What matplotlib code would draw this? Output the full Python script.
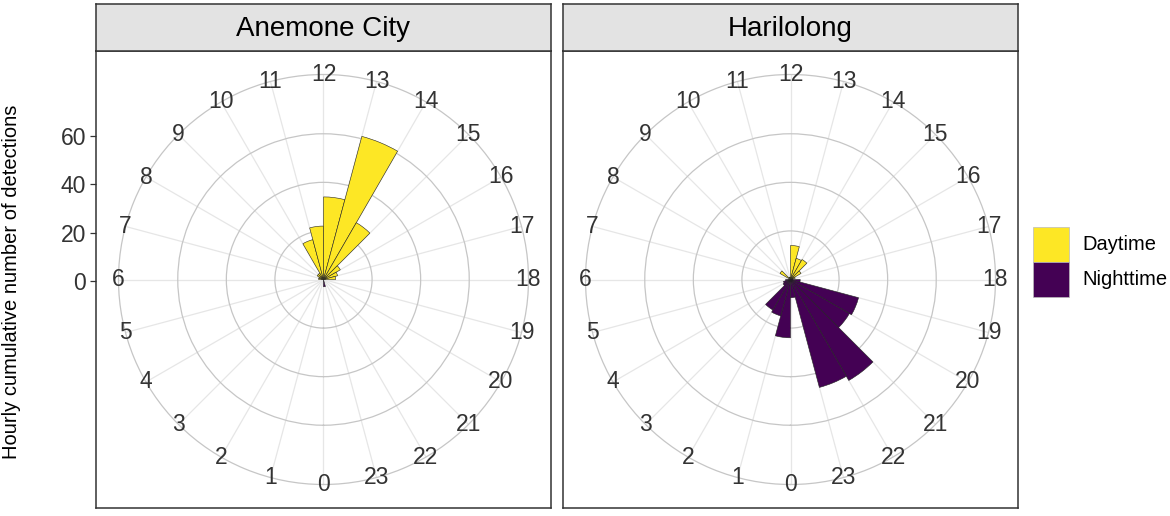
import numpy as np
import matplotlib.pyplot as plt
from matplotlib.patches import Rectangle

plt.rcParams['font.family'] = ['Liberation Sans', 'DejaVu Sans']

# data: hourly cumulative detections, bar for hour h spans [h, h+1)
hours = np.arange(24)
hour_labels = [str(h) for h in hours]
sites = ['Anemone City', 'Harilolong']
anemone_counts = [0, 0, 0, 0, 0, 0, 2, 2, 3, 3, 17, 22,
                  34, 61, 27, 8, 6, 5, 0, 0, 0, 0, 0, 3]
harilolong_counts = [24, 15.5, 14.5, 3.5, 3, 2, 0, 0, 5, 0, 1, 1,
                     14, 9, 9.5, 5, 2, 1, 4, 29, 28, 48, 46, 7.5]
period_names = ['Daytime', 'Nighttime']
is_daytime = (hours >= 6) & (hours <= 17)
r_ticks = [0, 20, 40, 60]

day_col = '#FDE725'
night_col = '#440154'

W, H = 1170, 516
fig = plt.figure(figsize=(W / 100, H / 100), dpi=100)


def fig_rect(x0, y0, x1, y1):
    # pixel box (top-left origin) -> figure fraction
    return [x0 / W, 1 - y1 / H, (x1 - x0) / W, (y1 - y0) / H]


panel_x = [(96, 551), (563, 1018)]
panel_top, panel_bot, strip_top = 51, 508, 4
r_px = 205          # radius of outer ring in pixels
r_outer = 84.4      # outer ring in data units
step = 2 * np.pi / 24

for i, (site, counts) in enumerate(zip(sites, [anemone_counts, harilolong_counts])):
    x0, x1 = panel_x[i]
    cx = (x0 + x1) / 2
    cy = (panel_top + panel_bot) / 2

    # panel frame (also carries the radial axis for the first panel)
    frame = fig.add_axes(fig_rect(x0, panel_top, x1, panel_bot))
    half = (panel_bot - panel_top) / 2 / r_px * r_outer
    frame.set_ylim(-half + 0.8, half + 0.8)
    frame.set_xticks([])
    for sp in frame.spines.values():
        sp.set_color('#333333')
        sp.set_linewidth(1.1)
    if i == 0:
        frame.set_yticks(r_ticks)
        frame.tick_params(axis='y', length=4, width=0.9, color='#333333',
                          labelsize=16.5, labelcolor='#333333', pad=3)
    else:
        frame.set_yticks([])

    # facet strip
    strip = fig.add_axes(fig_rect(x0, strip_top, x1, panel_top))
    strip.set_facecolor('#e3e3e3')
    strip.set_xticks([])
    strip.set_yticks([])
    for sp in strip.spines.values():
        sp.set_color('#333333')
        sp.set_linewidth(1.1)
    strip.text(0.5, 0.47, site, ha='center', va='center', fontsize=20,
               transform=strip.transAxes)

    # polar chart
    ax = fig.add_axes(fig_rect(cx - r_px, cy - r_px, cx + r_px, cy + r_px),
                      projection='polar')
    ax.patch.set_alpha(0)
    ax.set_theta_zero_location('S')
    ax.set_theta_direction(-1)
    ax.set_ylim(0, r_outer)
    ax.set_axisbelow(True)
    ax.set_xticks(hours * step)
    ax.set_xticklabels([])
    ax.set_yticks(r_ticks[1:])
    ax.set_yticklabels([])
    ax.tick_params(length=0)
    ax.grid(axis='x', color='#e6e6e6', linewidth=0.9)
    ax.grid(axis='y', color='#c6c6c6', linewidth=0.9)
    ax.spines['polar'].set_color('#c6c6c6')
    ax.spines['polar'].set_linewidth(0.9)

    colors = np.where(is_daytime, day_col, night_col)
    ax.bar(hours * step, counts, width=step, align='edge', color=colors,
           edgecolor='#222222', linewidth=0.4, zorder=3)

    for h, lab in zip(hours, hour_labels):
        ax.text(h * step, r_outer, lab, ha='center', va='center', fontsize=16.5,
                color='#333333', clip_on=False, zorder=4)

fig.text(12 / W, 1 - 282 / H, 'Hourly cumulative number of detections',
         rotation=90, ha='center', va='center', fontsize=14.5)

# legend
for k, (name, col) in enumerate(zip(period_names, [day_col, night_col])):
    ky = 227 + 35 * k
    fig.add_artist(Rectangle((1033 / W, 1 - (ky + 35) / H), 36 / W, 35 / H,
                             transform=fig.transFigure, facecolor=col,
                             edgecolor='#bbbbbb', linewidth=0.5))
    fig.text(1082 / W, 1 - (ky + 17.5) / H, name, ha='left', va='center',
             fontsize=14.5)

fig.savefig('out.png', dpi=100)
